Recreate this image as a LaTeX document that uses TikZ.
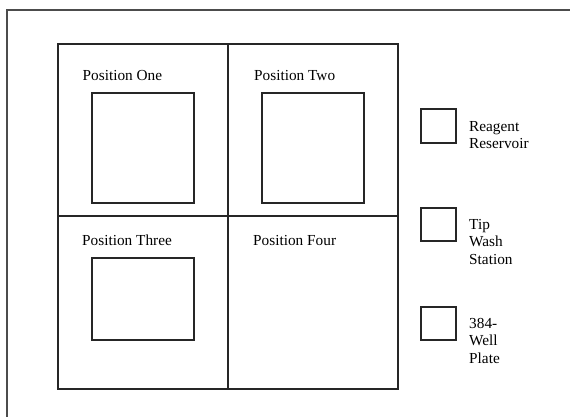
\documentclass[tikz,border=0pt]{standalone}
\usepackage{fontspec}
\setmainfont{Liberation Serif}
\begin{document}
\begin{tikzpicture}[x=1pt,y=-1pt,
  frame/.style={draw=black!80,line width=1.4pt},
  boxline/.style={draw=black!85,line width=1.3pt},
  lbl/.style={anchor=base west,inner sep=0pt,align=left,font=\fontsize{15.3}{17.4}\selectfont}]
\useasboundingbox (0,0) rectangle (570,417);
\begin{scope}
\clip (0,0) rectangle (570,417);
\draw[draw=black!70,line width=1.5pt] (7,10) rectangle (600,450);
\end{scope}
% grid
\coordinate (g1) at (58,44);
\coordinate (g2) at (398,389);
\draw[boxline] (g1) rectangle (g2);
\draw[boxline] (228,44) -- (228,389);
\draw[boxline] (58,216) -- (398,216);
% inner squares
\draw[boxline] (92,93) rectangle (194,203);
\draw[boxline] (262,93) rectangle (364,203);
\draw[boxline] (92,258) rectangle (194,340);
% labels
\node[lbl] (p1) at (82.5,80.7) {Position One};
\node[lbl] (p2) at (254,80.7) {Position Two};
\node[lbl] (p3) at (82,245) {Position Three};
\node[lbl] (p4) at (253,245) {Position Four};
% small boxes
\draw[boxline] (421,109) rectangle (456,143);
\draw[boxline] (421,208) rectangle (456,241);
\draw[boxline] (421,307) rectangle (456,340);
\node[lbl] (r) at (469,148.5) {Reagent\\Reservoir};
\node[lbl] (t) at (469,264) {Tip\\Wash\\Station};
\node[lbl] (w) at (469,363.3) {384-\\Well\\Plate};
\end{tikzpicture}
\end{document}
